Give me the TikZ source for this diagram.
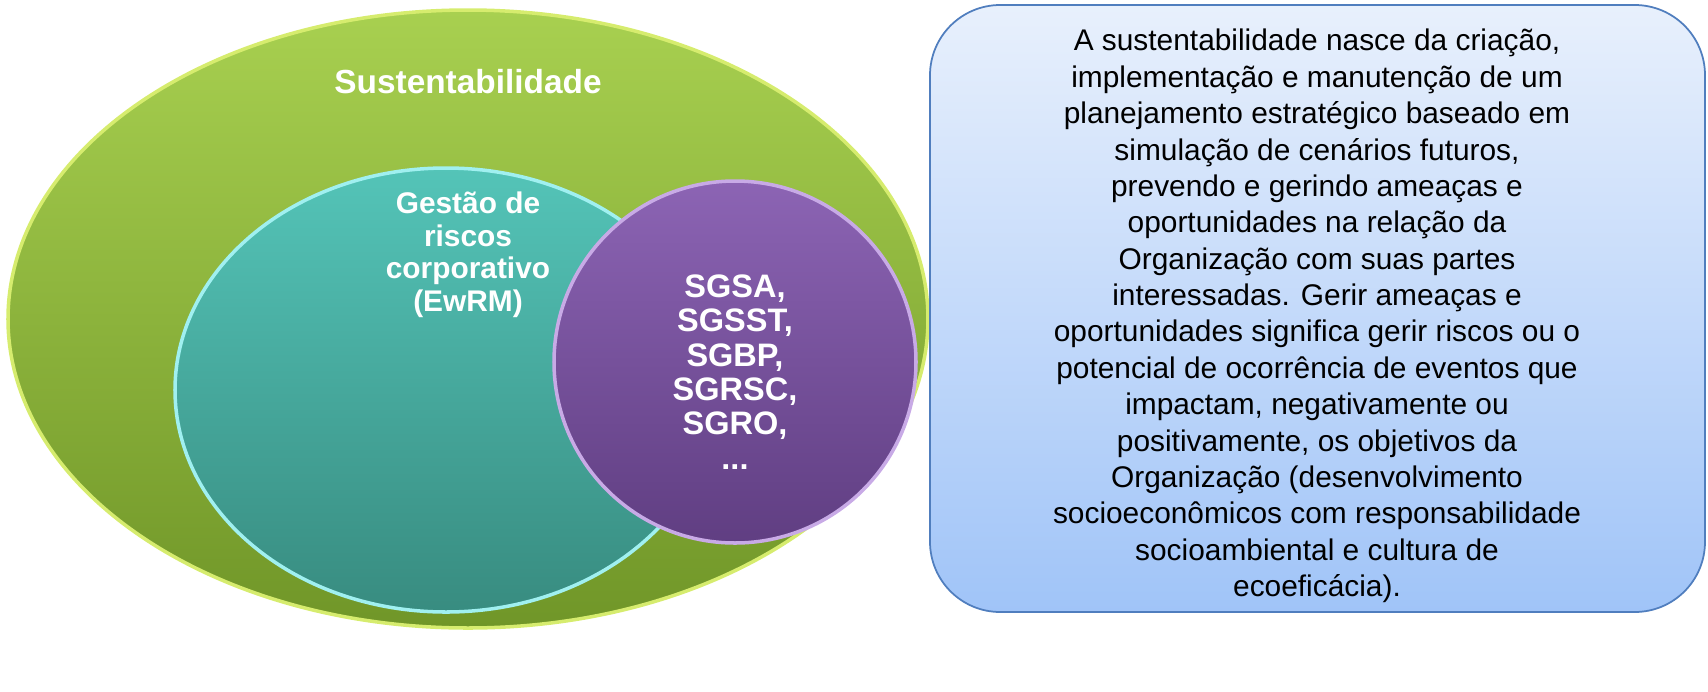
\documentclass[tikz,border=0pt]{standalone}
\usepackage{fontspec}
\setmainfont{Liberation Sans}
\definecolor{gtop}{RGB}{168,208,80}
\definecolor{gbot}{RGB}{112,150,40}
\definecolor{gbrd}{RGB}{214,236,110}
\definecolor{ttop}{RGB}{84,196,184}
\definecolor{tbot}{RGB}{56,140,128}
\definecolor{tbrd}{RGB}{160,240,240}
\definecolor{ptop}{RGB}{140,100,180}
\definecolor{pbot}{RGB}{96,62,130}
\definecolor{pbrd}{RGB}{200,170,230}
\definecolor{btop}{RGB}{232,240,252}
\definecolor{bbot}{RGB}{160,196,248}
\definecolor{bbrd}{RGB}{80,126,190}
\begin{document}
\begin{tikzpicture}[x=0.02cm,y=-0.02cm,
 lbl/.style={text=white,font=\bfseries,align=center},
 body/.style={text=black,align=center}]
\shade[top color=gtop, bottom color=gbot, draw=gbrd, line width=2pt] (468,319) ellipse [x radius=460, y radius=309];
\shade[top color=ttop, bottom color=tbot, draw=tbrd, line width=2pt] (446,390) ellipse [x radius=271, y radius=222];
\shade[top color=ptop, bottom color=pbot, draw=pbrd, line width=2pt] (735,362) circle [radius=181];
\shade[rounded corners=40pt, top color=btop, bottom color=bbot, draw=bbrd, line width=1pt] (930,5) rectangle (1705,612);
\node[lbl,font=\bfseries\fontsize{19}{22}\selectfont] (sus) at (468,82) {Sustentabilidade};
\node[lbl,font=\bfseries\fontsize{17}{18.5}\selectfont] (grc) at (468,255) {Gestão de\\riscos\\corporativo\\(EwRM)};
\node[lbl,font=\bfseries\fontsize{18.5}{19.5}\selectfont] (sg) at (735,372) {SGSA,\\SGSST,\\SGBP,\\SGRSC,\\SGRO,\\...};
\node[body,font=\fontsize{17}{20.7}\selectfont] (txt) at (1317,316) {A sustentabilidade nasce da criação,\\implementação e manutenção de um\\planejamento estratégico baseado em\\simulação de cenários futuros,\\prevendo e gerindo ameaças e\\oportunidades na relação da\\Organização com suas partes\\interessadas. Gerir ameaças e\\oportunidades significa gerir riscos ou o\\potencial de ocorrência de eventos que\\impactam, negativamente ou\\positivamente, os objetivos da\\Organização (desenvolvimento\\socioeconômicos com responsabilidade\\socioambiental e cultura de\\ecoeficácia).};
\pgfresetboundingbox
\useasboundingbox (0,0) rectangle (1708,691);
\end{tikzpicture}
\end{document}
